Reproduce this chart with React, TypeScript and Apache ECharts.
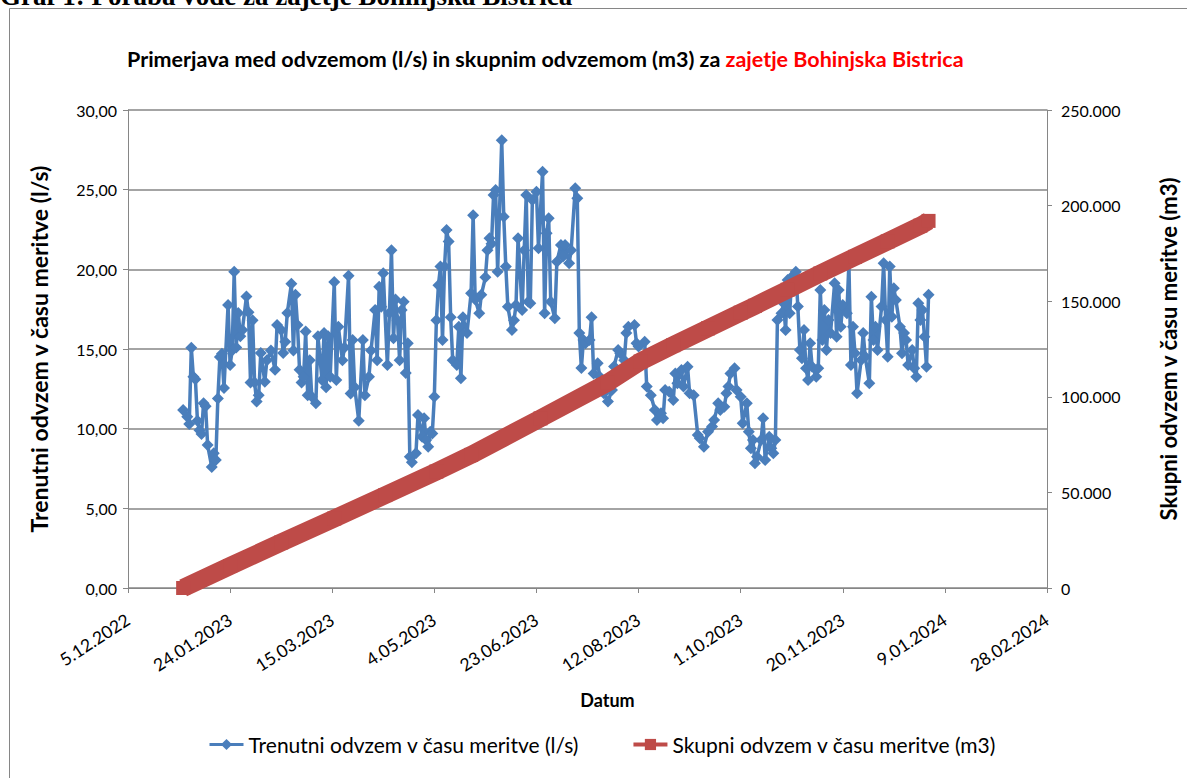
import React, { useEffect, useRef } from "react";
import * as echarts from "echarts";

// Axis setup (days counted from 5.12.2022)
const axisStartUTC = Date.UTC(2022, 11, 5);
const dataStartOffset = 27; // 1.1.2023 relative to 5.12.2022
const xMin = 0;
const xMax = 450;
const xInterval = 50;
const leftMax = 30;
const leftInterval = 5;
const rightMax = 250000;
const rightInterval = 50000;

const headingText = "Graf 1: Poraba vode za zajetje Bohinjska Bistrica";
const titleBlack = "Primerjava med odvzemom (l/s) in skupnim odvzemom (m3) za ";
const titleRed = "zajetje Bohinjska Bistrica";
const seriesFlowName = "Trenutni odvzem v času meritve (l/s)";
const seriesTotalName = "Skupni odvzem v času meritve (m3)";
const leftAxisName = "Trenutni odvzem v času meritve (l/s)";
const rightAxisName = "Skupni odvzem v času meritve (m3)";
const xAxisName = "Datum";

// Instantaneous flow (l/s); days since 1.1.2023
const flowDays = [
  0, 2, 3, 4, 5, 6, 7, 8, 9, 10, 11, 12, 14, 15, 16, 17, 18, 19, 20, 22,
  23, 24, 25, 26, 27, 28, 29, 31, 32, 33, 34, 35, 36, 37, 38, 40, 41, 43, 45, 46,
  48, 49, 50, 51, 53, 54, 55, 56, 57, 58, 59, 60, 61, 62, 63, 65, 66, 68, 69, 70,
  71, 72, 74, 75, 76, 78, 79, 81, 82, 83, 84, 86, 88, 89, 91, 92, 94, 95, 96, 97,
  98, 100, 101, 102, 103, 104, 105, 106, 107, 108, 109, 110, 111, 112, 114, 115, 117, 118, 119, 120,
  121, 122, 123, 124, 125, 126, 127, 128, 129, 130, 131, 132, 134, 135, 136, 137, 139, 141, 142, 143,
  145, 146, 148, 149, 150, 151, 152, 153, 154, 156, 157, 158, 159, 161, 162, 163, 164, 166, 167, 168,
  169, 170, 171, 173, 174, 176, 177, 178, 179, 180, 182, 183, 185, 186, 187, 189, 190, 192, 193, 194,
  195, 196, 197, 199, 200, 201, 203, 204, 206, 208, 210, 211, 213, 214, 216, 217, 218, 221, 222, 223,
  226, 227, 229, 231, 232, 234, 235, 236, 238, 240, 241, 242, 244, 245, 247, 248, 250, 252, 253, 255,
  257, 259, 260, 262, 263, 265, 266, 267, 268, 270, 271, 273, 274, 276, 277, 278, 279, 280, 281, 283,
  284, 285, 287, 288, 289, 290, 291, 293, 294, 295, 296, 297, 298, 300, 301, 302, 303, 304, 305, 306,
  307, 308, 310, 311, 312, 313, 314, 315, 316, 317, 319, 320, 321, 322, 323, 325, 326, 327, 328, 329,
  330, 332, 333, 334, 336, 337, 338, 339, 340, 342, 343, 344, 345, 346, 347, 348, 349, 351, 352, 353,
  354, 355, 357, 358, 359, 360, 361, 362, 363, 364, 365,
];
const flowValues = [
  11.17, 10.75, 10.3, 15.08, 13.26, 13.1, 10.5, 9.9, 9.67, 11.6, 11.4, 8.97, 7.6, 8.46, 8.03, 11.9, 14.5, 14.7, 12.55, 17.76,
  14.0, 14.9, 19.85, 15.1, 17.26, 15.8, 16.2, 18.3, 17.3, 12.9, 16.8, 12.9, 11.7, 12.1, 14.75, 12.95, 14.3, 14.9, 13.7, 16.5,
  16.2, 14.75, 15.46, 17.26, 19.1, 14.9, 18.4, 16.5, 13.7, 12.9, 13.26, 16.1, 12.1, 14.3, 12.0, 11.6, 15.8, 13.05, 16.0, 12.6,
  15.8, 13.26, 19.2, 13.05, 16.4, 14.3, 15.1, 19.6, 12.2, 15.56, 12.6, 10.5, 15.56, 12.1, 13.26, 14.9, 17.45, 14.3, 18.9, 17.65,
  19.75, 14.0, 17.26, 21.2, 15.67, 18.1, 16.8, 14.3, 17.45, 17.97, 13.5, 15.36, 8.24, 7.9, 8.45, 10.86, 9.5, 10.65, 9.29, 8.87,
  9.8, 9.7, 12.0, 16.8, 19.0, 20.17, 15.56, 20.17, 22.47, 21.74, 17.0, 14.3, 14.0, 16.4, 13.16, 17.0, 16.0, 18.5, 23.4, 18.1,
  17.24, 18.4, 19.5, 21.2, 21.95, 21.6, 24.66, 24.98, 19.85, 28.1, 23.3, 20.17, 17.65, 16.2, 16.8, 17.76, 21.95, 17.45, 21.2, 24.66,
  17.97, 17.87, 24.35, 24.87, 21.32, 26.13, 17.24, 22.26, 23.2, 17.97, 16.93, 20.48, 21.53, 20.8, 21.53, 20.38, 21.2, 25.09, 24.46, 16.0,
  13.8, 15.56, 15.36, 15.56, 17.0, 13.47, 14.1, 13.26, 12.22, 11.7, 12.43, 13.9, 14.94, 14.73, 14.3, 16.0, 16.4, 16.5, 15.36, 15.15,
  15.46, 12.64, 12.1, 11.17, 10.54, 10.96, 10.65, 12.43, 12.32, 11.8, 13.47, 12.85, 13.68, 12.64, 13.89, 12.22, 12.1, 9.6, 9.4, 8.87,
  9.81, 10.13, 10.54, 11.59, 11.17, 11.38, 12.22, 12.64, 13.47, 13.79, 12.43, 12.0, 10.34, 11.59, 9.81, 8.77, 9.29, 7.83, 8.24, 9.29,
  10.65, 8.03, 9.5, 8.77, 8.45, 9.29, 16.82, 17.24, 17.87, 16.19, 19.33, 17.24, 19.54, 19.85, 17.66, 14.94, 14.42, 16.19, 13.79, 13.05,
  15.36, 13.89, 13.26, 13.79, 18.7, 15.56, 17.45, 14.94, 16.82, 16.0, 19.12, 15.77, 18.7, 16.4, 17.76, 17.24, 20.38, 14.0, 16.4, 14.73,
  12.22, 14.31, 16.0, 14.52, 12.85, 18.28, 15.56, 16.4, 14.94, 17.66, 20.38, 16.82, 14.52, 20.17, 17.03, 18.81, 18.07, 16.4, 14.73, 16.0,
  15.56, 14.0, 14.94, 13.79, 13.26, 17.87, 16.82, 17.45, 15.77, 13.89, 18.4,
];

// Cumulative withdrawal (m3); days since 1.1.2023
const totalDays = [0, 23, 48, 74, 99, 124, 141, 175, 208, 224, 240, 257, 273, 280, 296, 312, 329, 345, 361, 365];
const totalValues = [
  0, 11500, 23800, 36350, 48600, 60900, 69600, 88700, 107500, 118500,
  127000, 135800, 144000, 147600, 156000, 164500, 173200, 181300, 189500, 192000,
];

const BLUE = "#4A7EBB";
const RED = "#BE4B48";
const GRID = "#868686";

const fmtDate = (d: number) => {
  const dt = new Date(axisStartUTC + d * 86400000);
  return `${dt.getUTCDate()}.${String(dt.getUTCMonth() + 1).padStart(2, "0")}.${dt.getUTCFullYear()}`;
};
const fmtLeft = (v: number) => v.toFixed(2).replace(".", ",");
const fmtRight = (v: number) => (v === 0 ? "0" : String(Math.round(v)).replace(/\B(?=(\d{3})+(?!\d))/g, "."));

export default function App() {
  const ref = useRef<HTMLDivElement>(null);
  useEffect(() => {
    if (!ref.current) return;
    const chart = echarts.init(ref.current, undefined, { renderer: "svg" });
    const font = "Lato";
    const flowData = flowDays.map((d, i) => [d + dataStartOffset, flowValues[i]]);
    const totalData = totalDays.map((d, i) => [d + dataStartOffset, totalValues[i]]);
    chart.setOption({
      animation: false,
      backgroundColor: "#fff",
      title: {
        text: `{a|${titleBlack}}{b|${titleRed}}`,
        left: 122,
        top: 43,
        textStyle: {
          rich: {
            a: { fontFamily: font, fontWeight: "bold", fontSize: 21.5, color: "#000" },
            b: { fontFamily: font, fontWeight: "bold", fontSize: 21.5, color: "#FF0000" },
          },
        },
      },
      graphic: [
        {
          type: "rect",
          shape: { x: 9.5, y: 8.5, width: 1300, height: 900 },
          style: { fill: "none", stroke: GRID, lineWidth: 1 },
          silent: true,
        },
        {
          type: "text",
          x: 0,
          y: 9,
          style: {
            text: headingText,
            fontFamily: "Liberation Serif",
            fontWeight: "bold",
            fontSize: 27,
            fill: "#000",
            textVerticalAlign: "bottom",
          },
        },
      ],
      legend: {
        bottom: 18,
        left: 203,
        itemWidth: 34,
        itemHeight: 14,
        itemGap: 52,
        textStyle: { fontFamily: font, fontSize: 21, color: "#000" },
        data: [
          { name: seriesFlowName, lineStyle: { width: 3 } },
          { name: seriesTotalName, lineStyle: { width: 4 } },
        ],
      },
      grid: { left: 128, right: 139, top: 110, bottom: 190, containLabel: false },
      xAxis: {
        type: "value",
        min: xMin,
        max: xMax,
        interval: xInterval,
        name: xAxisName,
        nameLocation: "middle",
        nameGap: 103,
        nameTextStyle: { fontFamily: font, fontWeight: "bold", fontSize: 18, color: "#000", padding: [0, 0, 0, 40] },
        axisLine: { lineStyle: { color: GRID, width: 1 } },
        axisTick: { show: true, length: 5, lineStyle: { color: GRID } },
        splitLine: { show: false },
        axisLabel: {
          rotate: 33,
          margin: 30,
          fontFamily: font,
          fontSize: 17.5,
          color: "#000",
          formatter: (v: number) => fmtDate(v),
        },
      },
      yAxis: [
        {
          type: "value",
          min: 0,
          max: leftMax,
          interval: leftInterval,
          name: leftAxisName,
          nameLocation: "middle",
          nameGap: 78,
          nameRotate: 90,
          nameTextStyle: { fontFamily: font, fontWeight: "bold", fontSize: 23, color: "#000" },
          axisLine: { show: true, lineStyle: { color: GRID, width: 1 } },
          axisTick: { show: true, length: 5, lineStyle: { color: GRID } },
          splitLine: { show: true, lineStyle: { color: GRID, width: 1.5 } },
          axisLabel: { margin: 11, fontFamily: font, fontSize: 16, color: "#000", formatter: fmtLeft },
        },
        {
          type: "value",
          min: 0,
          max: rightMax,
          interval: rightInterval,
          name: rightAxisName,
          nameLocation: "middle",
          nameGap: 110,
          nameRotate: 90,
          nameTextStyle: { fontFamily: font, fontWeight: "bold", fontSize: 22, color: "#000" },
          axisLine: { show: true, lineStyle: { color: GRID, width: 1 } },
          axisTick: { show: true, length: 5, lineStyle: { color: GRID } },
          splitLine: { show: false },
          axisLabel: { margin: 14, fontFamily: font, fontSize: 16, color: "#000", formatter: fmtRight },
        },
      ],
      series: [
        {
          name: seriesFlowName,
          type: "line",
          yAxisIndex: 0,
          data: flowData,
          symbol: "diamond",
          symbolSize: 12,
          showAllSymbol: true,
          lineStyle: { color: BLUE, width: 3.5 },
          itemStyle: { color: BLUE, borderWidth: 0 },
          z: 2,
        },
        {
          name: seriesTotalName,
          type: "line",
          yAxisIndex: 1,
          data: totalData,
          symbol: "rect",
          symbolSize: 14,
          showAllSymbol: true,
          lineStyle: { color: RED, width: 18, join: "round" },
          itemStyle: { color: RED, borderWidth: 0 },
          z: 3,
        },
      ],
    });
    return () => chart.dispose();
  }, []);
  return (
    <div
      ref={ref}
      style={{ position: "fixed", left: 0, top: 0, width: 1187, height: 778, background: "#fff" }}
    />
  );
}
